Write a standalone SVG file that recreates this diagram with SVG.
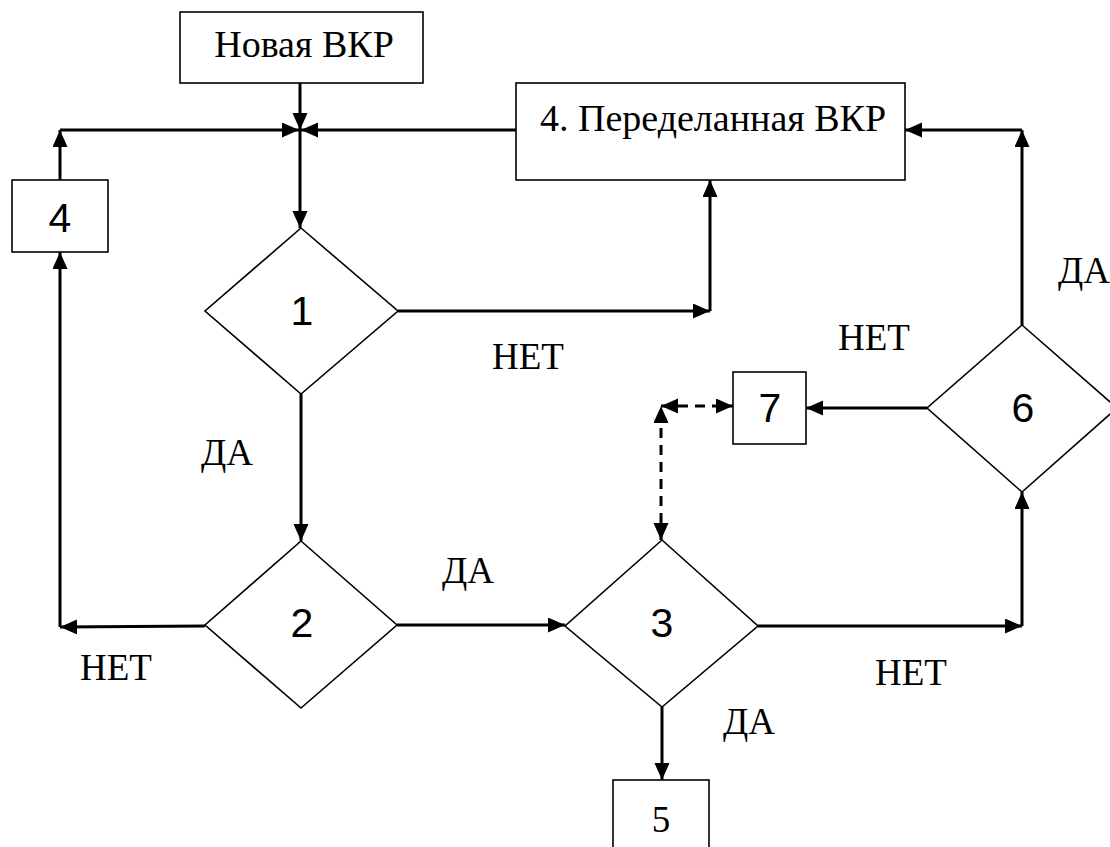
<svg xmlns="http://www.w3.org/2000/svg" width="1110" height="847" viewBox="0 0 1110 847">
<style>
.shape{fill:#fff;stroke:#000;stroke-width:1.6}
.c{stroke:#000;stroke-width:3;fill:none}
.d{stroke:#000;stroke-width:3;fill:none;stroke-dasharray:10 7}
.t{font-family:"Liberation Serif","Times New Roman",serif;font-size:37px;fill:#000}
.n{font-family:"Liberation Sans",Arial,sans-serif;font-size:41px;fill:#000;text-anchor:middle}
</style>
<defs>
<marker id="a" markerUnits="userSpaceOnUse" markerWidth="18" markerHeight="16" refX="17" refY="7.5" orient="auto-start-reverse" viewBox="0 0 18 16">
<path d="M0,0 L17,7.5 L0,15 z" fill="#000"/>
</marker>
</defs>
<rect width="1110" height="847" fill="#fff"/>
<g id="connectors">
<line class="c" x1="300" y1="83" x2="300" y2="130" marker-end="url(#a)"/>
<line class="c" x1="60" y1="130" x2="299" y2="130" marker-end="url(#a)"/>
<line class="c" x1="516" y1="130" x2="301" y2="130" marker-end="url(#a)"/>
<line class="c" x1="300" y1="130" x2="300" y2="228" marker-end="url(#a)"/>
<line class="c" x1="60" y1="180" x2="60" y2="130" marker-end="url(#a)"/>
<line class="c" x1="205" y1="626" x2="60" y2="627" marker-end="url(#a)"/>
<line class="c" x1="60" y1="627" x2="60" y2="252" marker-end="url(#a)"/>
<line class="c" x1="398" y1="311" x2="710" y2="311" marker-end="url(#a)"/>
<line class="c" x1="710" y1="311" x2="710" y2="180" marker-end="url(#a)"/>
<line class="c" x1="301" y1="394" x2="301" y2="541" marker-end="url(#a)"/>
<line class="c" x1="397" y1="625" x2="565" y2="625" marker-end="url(#a)"/>
<line class="c" x1="758" y1="626" x2="1022" y2="626" marker-end="url(#a)"/>
<line class="c" x1="1022" y1="626" x2="1022" y2="492" marker-end="url(#a)"/>
<line class="c" x1="1022" y1="325" x2="1022" y2="130" marker-end="url(#a)"/>
<line class="c" x1="1022" y1="130" x2="905" y2="130" marker-end="url(#a)"/>
<line class="c" x1="927" y1="408" x2="806" y2="408" marker-end="url(#a)"/>
<line class="d" x1="661" y1="540" x2="661" y2="406" marker-start="url(#a)" marker-end="url(#a)"/>
<line class="d" x1="661" y1="406" x2="733" y2="406" marker-start="url(#a)" marker-end="url(#a)"/>
<line class="c" x1="662" y1="707" x2="662" y2="780" marker-end="url(#a)"/>
</g>
<g id="new">
<rect class="shape" x="180" y="12" width="243" height="71"/>
<text class="t" x="304" y="57" text-anchor="middle" style="font-size:38px">Новая ВКР</text>
</g>
<g id="redo">
<rect class="shape" x="516" y="83" width="389" height="97"/>
<text class="t" x="540" y="131" style="font-size:38px">4. Переделанная ВКР</text>
</g>
<g id="box4">
<rect class="shape" x="12" y="180" width="96" height="72"/>
<text class="n" x="60" y="232">4</text>
</g>
<g id="d1">
<polygon class="shape" points="301,228 398,311 301,394 205,311"/>
<text class="n" x="302" y="325">1</text>
</g>
<g id="d2">
<polygon class="shape" points="301,541 397,625 301,708 205,625"/>
<text class="n" x="302" y="637">2</text>
</g>
<g id="d3">
<polygon class="shape" points="662,540 758,626 662,707 565,626"/>
<text class="n" x="662" y="637">3</text>
</g>
<g id="d6">
<polygon class="shape" points="1022,325 1117,408 1022,492 927,408"/>
<text class="n" x="1023" y="422">6</text>
</g>
<g id="box7">
<rect class="shape" x="733" y="372" width="73" height="72"/>
<text class="n" x="770" y="422">7</text>
</g>
<g id="box5">
<rect class="shape" x="613" y="780" width="96" height="80"/>
<text class="t" x="661" y="832" text-anchor="middle">5</text>
</g>
<g id="labels">
<text class="t" x="492" y="369">НЕТ</text>
<text class="t" x="201" y="465">ДА</text>
<text class="t" x="442" y="583">ДА</text>
<text class="t" x="80" y="680">НЕТ</text>
<text class="t" x="723" y="734">ДА</text>
<text class="t" x="875" y="685">НЕТ</text>
<text class="t" x="838" y="350">НЕТ</text>
<text class="t" x="1058" y="283">ДА</text>
</g>
</svg>
